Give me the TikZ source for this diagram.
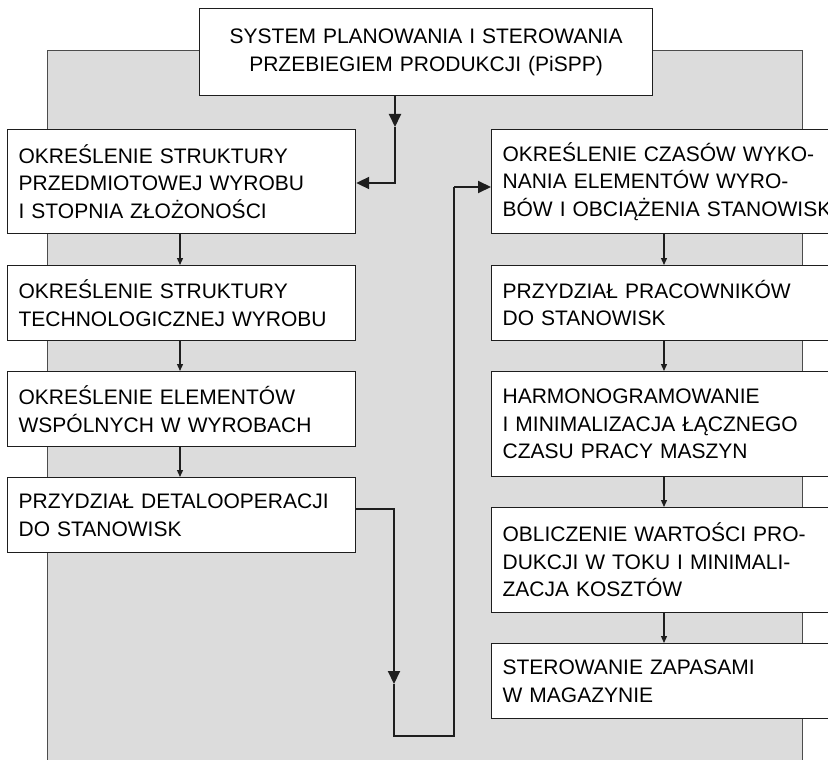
\documentclass[tikz,border=0pt]{standalone}
\usepackage{fontspec}
\setmainfont{Liberation Sans}
\usetikzlibrary{arrows.meta}
\definecolor{panel}{HTML}{DCDCDC}
\definecolor{ink}{HTML}{1E1E1E}
\tikzset{
  stagebox/.style={draw=ink, line width=1.2pt, fill=white, rectangle, anchor=north west,
    inner xsep=11pt, inner ysep=0pt, align=left, font=\fontsize{21}{27.5}\selectfont},
  flow/.style={draw=ink, line width=1.3pt, -{Triangle[length=7pt,width=6pt]}},
  bigflow/.style={draw=ink, line width=2pt},
  bighead/.style={-{Triangle[length=13pt,width=12pt]}}
}
\begin{document}
\begin{tikzpicture}[x=1pt,y=-1pt]
\useasboundingbox (0,0) rectangle (828,760);
\clip (0,0) rectangle (828,760);
% shaded panel behind the two columns
\fill[panel] (47,51) rectangle (802,780);
\draw[draw=black!70, line width=1pt] (47,780) -- (47,51) -- (802,51) -- (802,780);

% header
\node[stagebox, align=center, minimum width=453pt, text width=431pt, minimum height=87pt] (top) at (199,8)
  {SYSTEM PLANOWANIA I STEROWANIA\\PRZEBIEGIEM PRODUKCJI (PiSPP)};

% left column
\node[stagebox, text width=326pt, minimum height=104pt] (L1) at (7,129)
  {OKREŚLENIE STRUKTURY\\PRZEDMIOTOWEJ WYROBU\\I STOPNIA ZŁOŻONOŚCI};
\node[stagebox, text width=326pt, minimum height=75pt] (L2) at (7,265)
  {OKREŚLENIE STRUKTURY\\TECHNOLOGICZNEJ WYROBU};
\node[stagebox, text width=326pt, minimum height=75pt] (L3) at (7,371)
  {OKREŚLENIE ELEMENTÓW\\WSPÓLNYCH W WYROBACH};
\node[stagebox, text width=326pt, minimum height=75pt] (L4) at (7,477)
  {PRZYDZIAŁ DETALOOPERACJI\\DO STANOWISK};

% right column
\node[stagebox, text width=350pt, minimum height=104pt] (R1) at (491,129)
  {OKREŚLENIE CZASÓW WYKO-\\NANIA ELEMENTÓW WYRO-\\BÓW I OBCIĄŻENIA STANOWISK};
\node[stagebox, text width=350pt, minimum height=75pt] (R2) at (491,265)
  {PRZYDZIAŁ PRACOWNIKÓW\\DO STANOWISK};
\node[stagebox, text width=350pt, minimum height=105pt] (R3) at (491,371)
  {HARMONOGRAMOWANIE\\I MINIMALIZACJA ŁĄCZNEGO\\CZASU PRACY MASZYN};
\node[stagebox, text width=350pt, minimum height=105pt] (R4) at (491,507)
  {OBLICZENIE WARTOŚCI PRO-\\DUKCJI W TOKU I MINIMALI-\\ZACJA KOSZTÓW};
\node[stagebox, text width=350pt, minimum height=75pt] (R5) at (491,643)
  {STEROWANIE ZAPASAMI\\W MAGAZYNIE};

% header into the left column
\coordinate (hdrdrop) at (395,127);
\coordinate (hdrturn) at (395,183);
\draw[bigflow, bighead] (top.south -| hdrdrop) -- (hdrdrop);
\draw[bigflow, bighead] (hdrdrop) -- (hdrturn) -- (hdrturn -| L1.east);

% left column chain
\draw[flow] (L1.south -| 180,0) -- (L2.north -| 180,0);
\draw[flow] (L2.south -| 180,0) -- (L3.north -| 180,0);
\draw[flow] (L3.south -| 180,0) -- (L4.north -| 180,0);

% crossover from the left column to the right one
\coordinate (xa) at (394,509);
\coordinate (xdrop) at (394,684);
\coordinate (xb) at (394,736);
\coordinate (xc) at (454,736);
\coordinate (xd) at (454,187);
\draw[bigflow, bighead] (xa -| L4.east) -- (xa) -- (xdrop);
\draw[bigflow] (xdrop) -- (xb) -- (xc) -- (xd);
\draw[bigflow, bighead] (xd) -- (xd -| R1.west);

% right column chain
\draw[flow] (R1.south -| 664,0) -- (R2.north -| 664,0);
\draw[flow] (R2.south -| 664,0) -- (R3.north -| 664,0);
\draw[flow] (R3.south -| 664,0) -- (R4.north -| 664,0);
\draw[flow] (R4.south -| 664,0) -- (R5.north -| 664,0);
\end{tikzpicture}
\end{document}
